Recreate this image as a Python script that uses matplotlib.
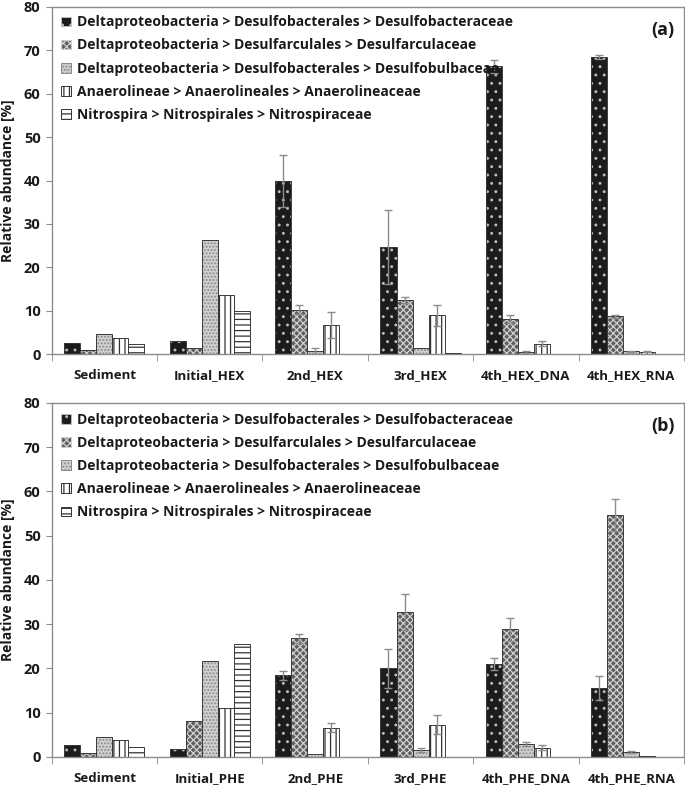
import matplotlib
matplotlib.use("Agg")
import matplotlib.pyplot as plt
import numpy as np
from matplotlib.patches import Patch

plt.rcParams['font.family'] = ['Open Sans', 'DejaVu Sans']
plt.rcParams['font.weight'] = 'bold'
plt.rcParams['hatch.linewidth'] = 0.9

taxa = [
    "Deltaproteobacteria > Desulfobacterales > Desulfobacteraceae",
    "Deltaproteobacteria > Desulfarculales > Desulfarculaceae",
    "Deltaproteobacteria > Desulfobacterales > Desulfobulbaceae",
    "Anaerolineae > Anaerolineales > Anaerolineaceae",
    "Nitrospira > Nitrospirales > Nitrospiraceae",
]

groups_a = ["Sediment", "Initial_HEX", "2nd_HEX", "3rd_HEX", "4th_HEX_DNA", "4th_HEX_RNA"]
groups_b = ["Sediment", "Initial_PHE", "2nd_PHE", "3rd_PHE", "4th_PHE_DNA", "4th_PHE_RNA"]

# values[taxon][group]
vals_a = [
    [2.6, 3.1, 39.9, 24.7, 66.3, 68.5],
    [0.85, 1.3, 10.2, 12.5, 8.1, 8.7],
    [4.5, 26.2, 0.7, 1.5, 0.5, 0.6],
    [3.8, 13.5, 6.8, 8.9, 2.4, 0.5],
    [2.2, 10.0, 0.1, 0.3, 0.0, 0.0],
]
err_a = [
    [0, 0, 6.0, 8.5, 1.5, 0.4],
    [0, 0, 1.0, 0.7, 1.0, 0.3],
    [0, 0, 0.7, 0, 0.2, 0.1],
    [0, 0, 3.0, 2.4, 0.5, 0.1],
    [0, 0, 0, 0, 0, 0],
]

vals_b = [
    [2.7, 1.9, 18.5, 20.0, 21.0, 15.5],
    [0.9, 8.1, 26.8, 32.7, 28.9, 54.6],
    [4.6, 21.7, 0.6, 1.6, 3.0, 1.1],
    [3.9, 11.0, 6.6, 7.3, 2.1, 0.3],
    [2.3, 25.5, 0.1, 0.1, 0.0, 0.0],
]
err_b = [
    [0, 0, 1.0, 4.3, 1.4, 2.7],
    [0, 0, 1.0, 4.1, 2.6, 3.6],
    [0, 0, 0, 0.5, 0.5, 0.3],
    [0, 0, 1.0, 2.2, 0.5, 0],
    [0, 0, 0, 0, 0, 0],
]

face = ['#1c1c1c', '#5e5e5e', '#cfcfcf', 'white', 'white']
hcol = ['#bdbdbd', '#d0d0d0', '#8a8a8a', '#333333', '#333333']
hatches = ['..', 'xxxxx', '.....', '|||', '---']

fig = plt.figure(figsize=(6.85, 7.86), dpi=100)
ax_a = fig.add_axes([0.0755, 0.5496, 0.923, 0.4415])
ax_b = fig.add_axes([0.0755, 0.0369, 0.923, 0.4504])

bw = 0.152

def draw(ax, groups, vals, errs, tag, leg_top):
    n = len(groups)
    x = np.arange(n)
    for i in range(5):
        xi = x + (i - 2) * bw
        ax.bar(xi, vals[i], bw, color=face[i], edgecolor=hcol[i], hatch=hatches[i], linewidth=0, zorder=2)
        ax.bar(xi, vals[i], bw, fill=False, edgecolor='#3a3a3a', linewidth=0.7, zorder=3)
        e = np.array(errs[i])
        m = e > 0
        if m.any():
            ax.errorbar(xi[m], np.array(vals[i])[m], yerr=e[m], fmt='none', ecolor='#8c8c8c',
                        elinewidth=1.0, capsize=3, capthick=1.0, zorder=4)
    ax.set_xlim(-0.5, n - 0.5)
    ax.set_ylim(0, 80)
    ax.set_yticks(np.arange(0, 81, 10))
    ax.set_xticks(x)
    ax.set_xticklabels(groups, fontsize=9.5, fontweight='bold', color='#1a1a1a')
    ax.set_xticks(np.arange(-0.5, n, 1), minor=True)
    ax.tick_params(axis='x', which='major', length=0, pad=11)
    ax.tick_params(axis='x', which='minor', length=5, color='#8c8c8c', direction='out')
    ax.tick_params(axis='y', length=4, color='#8c8c8c', labelsize=10.5, labelcolor='#1a1a1a', pad=4)
    for lab in ax.get_yticklabels():
        lab.set_fontweight('bold')
    for s in ax.spines.values():
        s.set_color('#8c8c8c')
        s.set_linewidth(1.0)
    ax.set_ylabel("Relative abundance [%]", fontsize=10, fontweight='bold', color='#1a1a1a')
    ax.yaxis.set_label_coords(-0.058, 0.5)
    handles = [Patch(facecolor=face[i], edgecolor=hcol[i], hatch=hatches[i], linewidth=0.7)
               for i in range(5)]
    leg = ax.legend(handles, taxa, loc='upper left', bbox_to_anchor=(0.0, leg_top),
                    frameon=False, fontsize=10, handlelength=0.7, handleheight=0.7,
                    handletextpad=0.4, labelspacing=0.66, borderaxespad=0.3)
    for t in leg.get_texts():
        t.set_fontweight('bold')
        t.set_color('#1a1a1a')
    ax.text(0.985, 0.935, tag, transform=ax.transAxes, ha='right', va='center',
            fontsize=13, fontweight='bold', color='#1a1a1a')

draw(ax_a, groups_a, vals_a, err_a, "(a)", 1.004)
draw(ax_b, groups_b, vals_b, err_b, "(b)", 1.0)

fig.savefig("out.png", dpi=100)
